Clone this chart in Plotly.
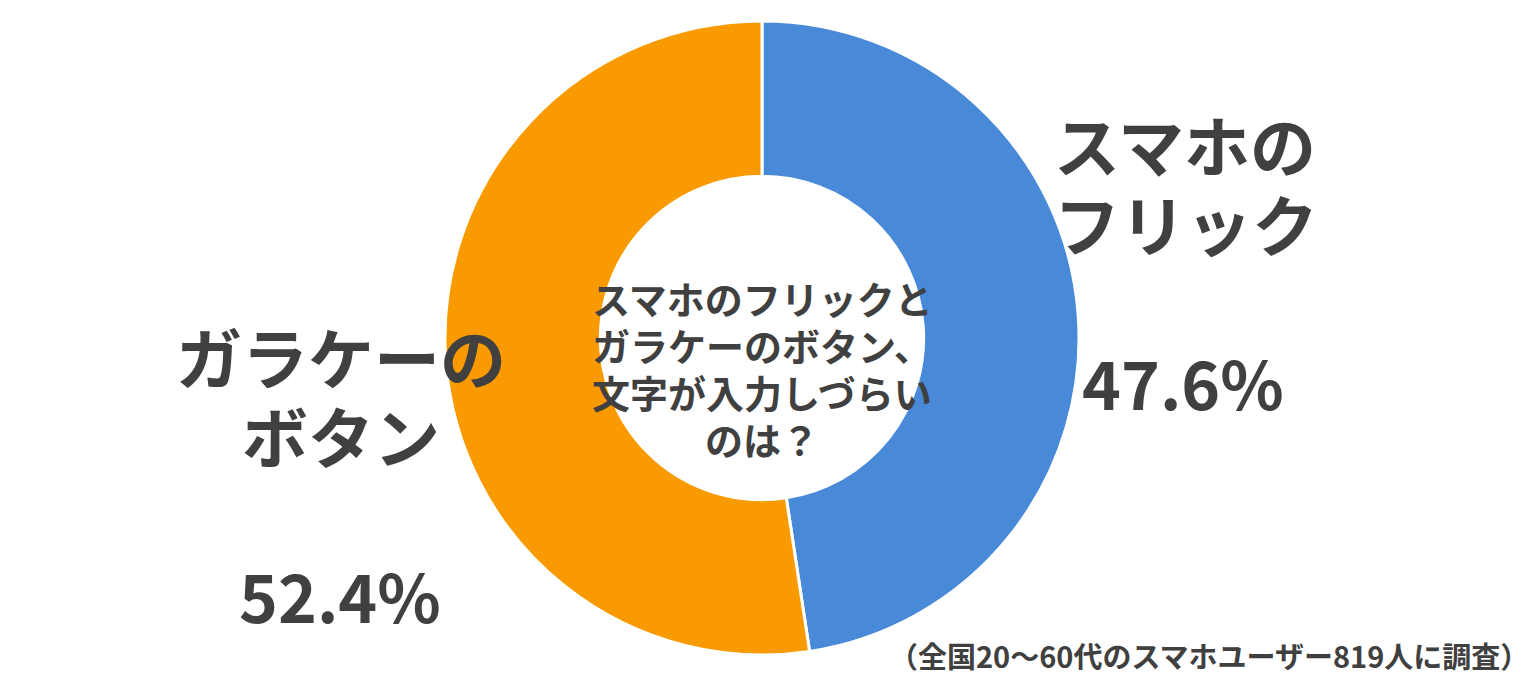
import plotly.graph_objects as go

# data
labels = ["スマホの<br>フリック", "ガラケーの<br>ボタン"]
values = [47.6, 52.4]
colors = ["#4889D8", "#F99B00"]
center_text = "スマホのフリックと<br>ガラケーのボタン、<br>文字が入力しづらい<br>のは？"
note_text = "（全国20〜60代のスマホユーザー819人に調査）"

W, H = 1532, 685
FONT = "Noto Sans CJK JP"
INK = "#404040"

fig = go.Figure(go.Pie(
    values=values,
    labels=labels,
    hole=0.51,
    sort=False,
    direction="clockwise",
    rotation=0,
    marker=dict(colors=colors, line=dict(color="white", width=3)),
    textinfo="none",
    hoverinfo="label+percent",
    showlegend=False,
    domain=dict(x=[445 / W, 1079 / W], y=[1 - 655 / H, 1 - 21 / H]),
))

def px(x, y):
    return x / W, 1 - y / H

annots = []

def add_lines(text, x0, y0, step, anchor, size):
    # one annotation per line so spacing is under control
    for i, line in enumerate(text.split("<br>")):
        x, y = px(x0, y0 + i * step)
        annots.append(dict(x=x, y=y, xref="paper", yref="paper", text="<b>%s</b>" % line,
                           showarrow=False, xanchor=anchor, yanchor="middle", borderpad=0,
                           font=dict(family=FONT, size=size, color=INK)))

# slice labels and values
label_pos = [(1053, 143, "left"), (341, 355, "center")]
value_pos = [(1183, 381), (340, 594)]
for lab, val, (lx, ly, anc), (vx, vy) in zip(labels, values, label_pos, value_pos):
    add_lines(lab, lx, ly, 79, anc, 66)
    add_lines("%.1f%%" % val, vx, vy, 0, "center", 66)

add_lines(center_text, 762, 297, 47, "center", 38)
add_lines(note_text, 1530, 655, 0, "right", 29)

fig.update_layout(
    width=W, height=H,
    margin=dict(l=0, r=0, t=0, b=0),
    paper_bgcolor="white",
    plot_bgcolor="white",
    annotations=annots,
)

fig.write_html("out.html", config={"displayModeBar": False},
               post_script="document.body.style.margin='0';")
